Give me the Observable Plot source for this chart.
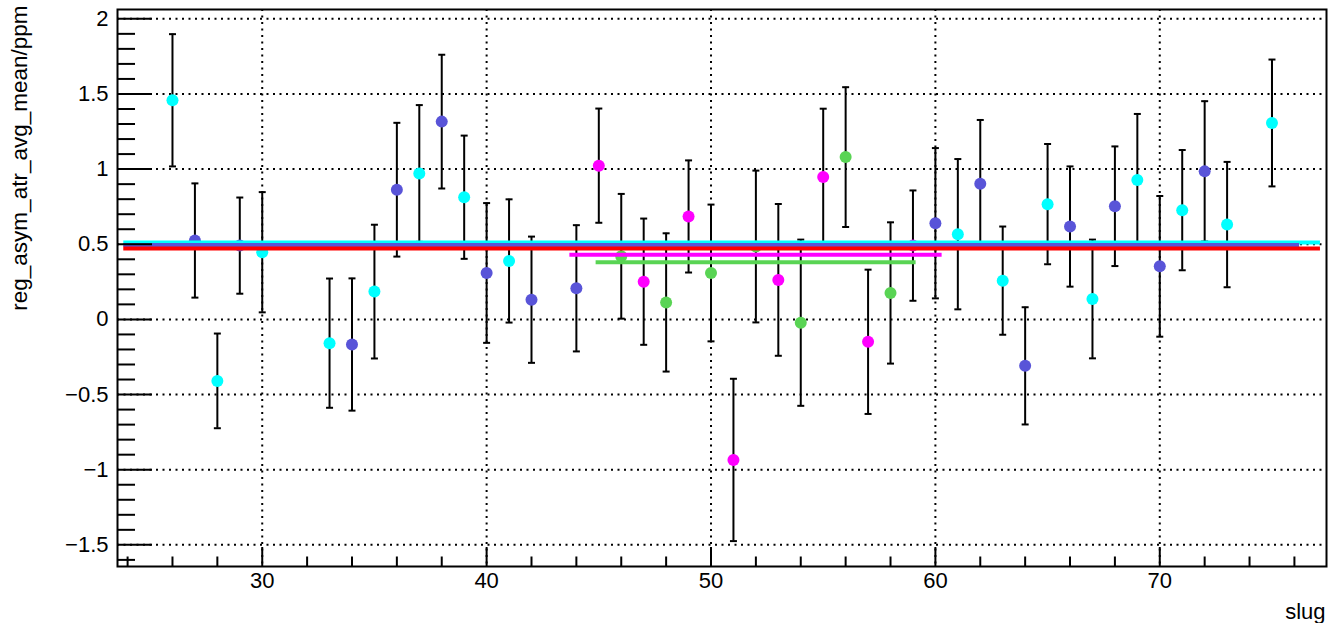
<!DOCTYPE html>
<html>
<head>
<meta charset="utf-8">
<script src="https://cdn.jsdelivr.net/npm/d3@7"></script>
<script src="https://cdn.jsdelivr.net/npm/@observablehq/plot@0.6"></script>
<style>
  html, body { margin: 0; padding: 0; background: white; }
  #chart svg { display: block; }
</style>
</head>
<body>
<div id="chart"></div>
<script>
// ---- data ----
const slugs  = [26,27,28,29,30,33,34,35,36,37,38,39,40,41,42,44,45,46,47,48,49,50,51,52,53,54,55,56,57,58,59,60,61,62,63,64,65,66,67,68,69,70,71,72,73,75];
const values = [1.458,0.525,-0.409,0.491,0.447,-0.158,-0.167,0.185,0.863,0.971,1.316,0.813,0.309,0.389,0.131,0.207,1.023,0.42,0.251,0.113,0.685,0.309,-0.935,0.485,0.263,-0.022,0.947,1.08,-0.149,0.176,0.491,0.64,0.567,0.903,0.258,-0.309,0.767,0.618,0.136,0.753,0.927,0.353,0.727,0.985,0.631,1.307];
const errors = [0.44,0.38,0.315,0.32,0.40,0.43,0.44,0.445,0.445,0.455,0.445,0.41,0.465,0.41,0.42,0.42,0.38,0.415,0.42,0.46,0.373,0.455,0.54,0.505,0.505,0.553,0.455,0.465,0.48,0.47,0.367,0.50,0.50,0.424,0.36,0.39,0.40,0.40,0.395,0.398,0.44,0.468,0.40,0.467,0.417,0.422];
const groups = ["c","b","c","b","c","c","b","c","b","c","b","c","b","c","b","b","m","g","m","g","m","g","m","g","m","g","m","g","m","g","m","b","c","b","c","b","c","b","c","b","c","b","c","b","c","c"];

// horizontal fit lines
const fitGroups = ["c","b","r","m","g"];
const fitValues = [0.512,0.495,0.471,0.431,0.38];
const fitStart  = [23.83,23.83,23.83,43.71,44.88];
const fitEnd    = [77.16,76.23,77.16,60.30,59.14];

const groupKeys   = ["c","b","m","g","r"];
const groupColors = ["#00ffff","#5954d8","#ff00ff","#59d454","#ff0000"];

// axes
const xTicks = [30,40,50,60,70];
const yTicks = [-1.5,-1,-0.5,0,0.5,1,1.5,2];
const xMinor = d3.range(24, 78, 2).filter(v => !xTicks.includes(v));
const yMinor = d3.range(-16, 21).map(i => i / 10).filter(v => !yTicks.some(t => Math.abs(t - v) < 1e-9));

const xLabel = "slug";
const yLabel = "reg_asym_atr_avg_mean/ppm";

// ---- build ----
const points = slugs.map((s, i) => ({slug: s, v: values[i], e: errors[i], g: groups[i]}));
const fits = fitGroups.map((g, i) => ({g, v: fitValues[i], x1: fitStart[i], x2: fitEnd[i]}));

const W = 1328, H = 623;
const mL = 117, mR = 2, mT = 9, mB = 57;
const plotW = W - mL - mR, plotH = H - mT - mB;

const capSymbol = {
  draw(context, size) {
    const h = Math.sqrt(size / Math.PI);
    context.moveTo(-h, 0);
    context.lineTo(h, 0);
  }
};

const fmt = d => (d < 0 ? "\u2212" + String(Math.abs(d)) : String(d));

const chart = Plot.plot({
  width: W,
  height: H,
  marginLeft: mL,
  marginRight: mR,
  marginTop: mT,
  marginBottom: mB,
  style: {fontFamily: "'Liberation Sans', Arial, Helvetica, sans-serif", fontSize: "22px", background: "white", color: "black"},
  x: {domain: [23.55, 77.43]},
  y: {domain: [-1.644, 2.062]},
  color: {domain: groupKeys, range: groupColors},
  marks: [
    Plot.gridX(xTicks, {stroke: "black", strokeOpacity: 1, strokeWidth: 2, strokeDasharray: "2,4.5"}),
    Plot.gridY(yTicks, {stroke: "black", strokeOpacity: 1, strokeWidth: 2, strokeDasharray: "2,4.5"}),
    Plot.ruleX(points, {x: "slug", y1: d => d.v - d.e, y2: d => d.v + d.e, stroke: "black", strokeWidth: 2}),
    Plot.dot(points, {x: "slug", y: d => d.v + d.e, symbol: capSymbol, r: 3.5, stroke: "black", strokeWidth: 2, fill: "none"}),
    Plot.dot(points, {x: "slug", y: d => d.v - d.e, symbol: capSymbol, r: 3.5, stroke: "black", strokeWidth: 2, fill: "none"}),
    Plot.dot(points, {x: "slug", y: "v", r: 6, fill: "g", stroke: null}),
    Plot.ruleY(fits, {y: "v", x1: "x1", x2: "x2", stroke: "g", strokeWidth: 4}),
    Plot.tickY(yTicks, {y: d => d, insetRight: plotW - 35, stroke: "black", strokeWidth: 2}),
    Plot.tickY(yMinor, {y: d => d, insetRight: plotW - 18, stroke: "black", strokeWidth: 2}),
    Plot.tickX(xTicks, {x: d => d, insetTop: plotH - 19, stroke: "black", strokeWidth: 2}),
    Plot.tickX(xMinor, {x: d => d, insetTop: plotH - 9.5, stroke: "black", strokeWidth: 2}),
    Plot.frame({stroke: "black", strokeWidth: 2}),
    Plot.axisY(yTicks, {tickSize: 0, tickPadding: 9, tickFormat: fmt, fontSize: 22, label: null}),
    Plot.axisX(xTicks, {tickSize: 0, tickPadding: 6, tickFormat: d => String(d), fontSize: 22, label: null}),
    Plot.text([xLabel], {frameAnchor: "bottom-right", text: d => d, textAnchor: "end", lineAnchor: "top", dx: -1, dy: 37, fontSize: 22}),
    Plot.text([yLabel], {frameAnchor: "top-left", text: d => d, rotate: -90, textAnchor: "end", lineAnchor: "middle", dx: -98, dy: -4, fontSize: 22.5})
  ]
});

document.getElementById("chart").appendChild(chart);
</script>
</body>
</html>
